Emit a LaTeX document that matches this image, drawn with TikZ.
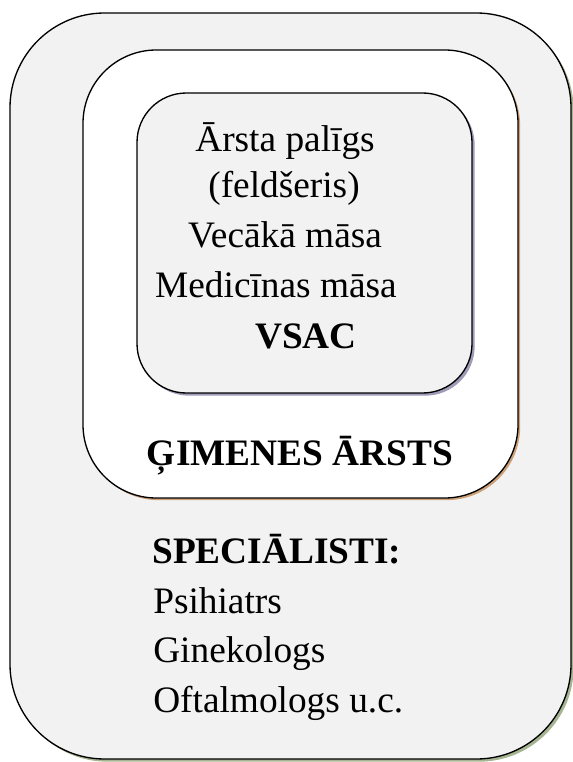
\documentclass[tikz,border=0pt]{standalone}
\usepackage{fontspec}
\setmainfont{Liberation Serif}
\usepackage{tikz}
\usetikzlibrary{shadows}

\definecolor{boxgray}{RGB}{242,242,242}
\definecolor{outershadow}{RGB}{165,180,145}
\definecolor{midshadow}{RGB}{205,160,120}
\definecolor{innershadow}{RGB}{160,155,185}

\begin{document}
\begin{tikzpicture}[
    x=0.75pt, y=-0.75pt,
    level/.style={
        draw,
        line width=1pt,
        inner sep=0pt
    },
    txt/.style={
        anchor=base,
        inner sep=0pt,
        font=\fontsize{28}{37}\selectfont
    },
    lefttxt/.style={txt, anchor=base west},
    boldtxt/.style={txt, font=\fontsize{28}{37}\selectfont\bfseries}
]
\useasboundingbox (0,0) rectangle (573,762);

% three nested levels
\node[level, fill=boxgray, rounded corners=71pt,
      minimum width=420.75pt, minimum height=559.5pt,
      drop shadow={shadow xshift=2pt, shadow yshift=-2pt, fill=outershadow, opacity=1}]
      (outer) at (290.5,386) {};
\node[level, fill=white, rounded corners=55pt,
      minimum width=326.25pt, minimum height=336pt,
      drop shadow={shadow xshift=1.6pt, shadow yshift=-1.6pt, fill=midshadow, opacity=1}]
      (middle) at (300.5,274) {};
\node[level, fill=boxgray, rounded corners=37pt,
      minimum width=251.25pt, minimum height=225pt,
      drop shadow={shadow xshift=2pt, shadow yshift=-2pt, fill=innershadow, opacity=1}]
      (inner) at (304.5,243) {};

% inner level
\node[txt] (feldsher) at (285,152) {Ārsta palīgs};
\node[txt] (feldsher2) at (284,198) {(feldšeris)};
\node[txt] (headnurse) at (285,248) {Vecākā māsa};
\node[txt] (nurse) at (276,298) {Medicīnas māsa};
\node[boldtxt] (vsac) at (306,348) {VSAC};

% middle level
\node[boldtxt] (gp) at (300,465) {ĢIMENES ĀRSTS};

% outer level
\node[lefttxt, font=\fontsize{28}{37}\selectfont\bfseries] (spec) at (152,563) {SPECIĀLISTI:};
\node[lefttxt] (psych) at (153,613) {Psihiatrs};
\node[lefttxt] (gyn) at (153,662) {Ginekologs};
\node[lefttxt] (oph) at (153,712) {Oftalmologs u.c.};
\end{tikzpicture}
\end{document}
